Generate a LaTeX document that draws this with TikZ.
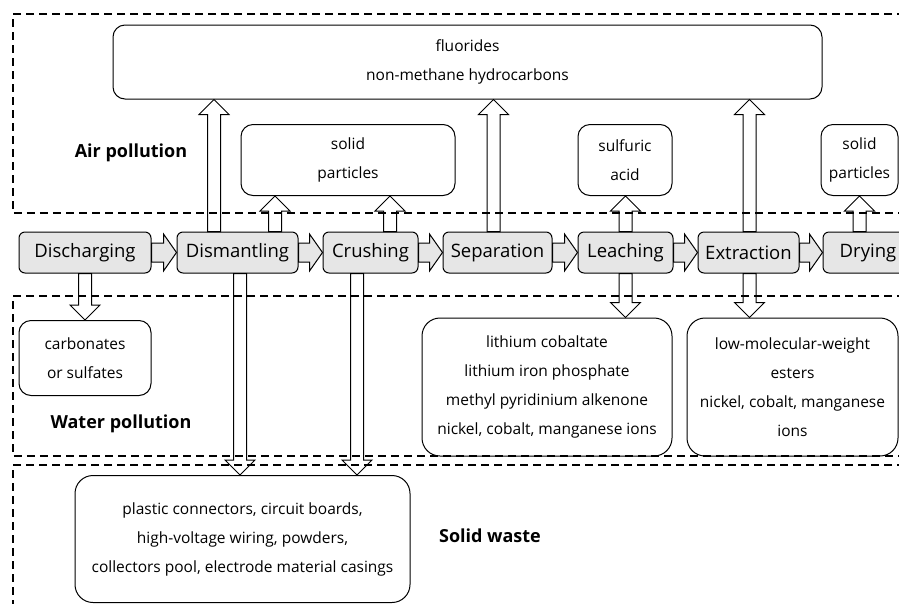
\documentclass[tikz,border=0pt]{standalone}
\usepackage{fontspec}
\setmainfont{Open Sans}
\usetikzlibrary{arrows.meta,positioning,calc}
\definecolor{procgray}{HTML}{E6E6E6}

\begin{document}
\begin{tikzpicture}[x=1pt, y=-1pt,
  proc/.style={rectangle, draw, line width=1pt, fill=procgray, rounded corners=6pt, minimum height=41pt, minimum width=#1, inner sep=0pt, font=\fontsize{18.5}{20}\selectfont},
  pbox/.style={rectangle, draw, line width=1pt, rounded corners=12pt, align=center, inner sep=0pt, font=\fontsize{15.5}{29}\selectfont},
  zone/.style={line width=1.3pt, dash pattern=on 8pt off 5pt},
  zlabel/.style={font=\fontsize{18}{20}\selectfont\bfseries},
  blockarr/.style args={#1/#2/#3}{line width=1pt, to path={
    let \p1=(\tikztostart), \p2=(\tikztotarget),
        \n1={atan2(\y2-\y1,\x2-\x1)}, \n2={veclen(\x2-\x1,\y2-\y1)} in
    ($(\p1)+(\n1+90:#1)$) -- ($(\p1)+(\n1+90:#1)+(\n1:\n2-#3)$)
    -- ($(\p1)+(\n1+90:#2)+(\n1:\n2-#3)$) -- (\p2)
    -- ($(\p1)+(\n1-90:#2)+(\n1:\n2-#3)$) -- ($(\p1)+(\n1-90:#1)+(\n1:\n2-#3)$)
    -- ($(\p1)+(\n1-90:#1)$) -- cycle}},
  harr/.style={blockarr=9.5pt/18.5pt/13pt, fill=procgray},
  varr/.style={blockarr=6.5pt/15pt/15pt, fill=white}
]
  \useasboundingbox (0,0) rectangle (899,603);

  % process chain
  \node[proc=132pt] (dis) at (85,252.5) {Discharging};
  \node[proc=121pt] (dism) at (237.5,252.5) {Dismantling};
  \node[proc=95pt] (crush) at (370.5,252.5) {Crushing};
  \node[proc=109pt] (sep) at (497.5,252.5) {Separation};
  \node[proc=95pt] (leach) at (625.5,252.5) {Leaching};
  \node[proc=101pt] (extr) at (748.5,252.5) {Extraction};
  \node[proc=90pt] (dry) at (868,252.5) {Drying};

  % pollutant boxes
  \node[pbox, minimum width=709pt, minimum height=74pt] (fluor) at (467.5,62) {fluorides\\non-methane hydrocarbons};
  \node[pbox, minimum width=214pt, minimum height=71pt] (sol1) at (348,160) {solid\\particles};
  \node[pbox, minimum width=94pt, minimum height=71pt] (sulf) at (625,160) {sulfuric\\acid};
  \node[pbox, minimum width=77pt, minimum height=71pt] (sol2) at (859.5,160) {solid\\particles};
  \node[pbox, minimum width=132pt, minimum height=75pt] (carb) at (85,358) {carbonates\\or sulfates};
  \node[pbox, minimum width=250pt, minimum height=138pt, rounded corners=18pt] (lith) at (547,387) {lithium cobaltate\\lithium iron phosphate\\methyl pyridinium alkenone\\nickel, cobalt, manganese ions};
  \node[pbox, minimum width=211pt, minimum height=138pt, rounded corners=18pt] (lowm) at (792.5,387) {low-molecular-weight\\esters\\nickel, cobalt, manganese\\ions};
  \node[pbox, minimum width=335pt, minimum height=127pt, rounded corners=18pt] (waste) at (242.5,539) {plastic connectors, circuit boards,\\high-voltage wiring, powders,\\collectors pool, electrode material casings};

  \node[zlabel] (air) at (131,153) {Air pollution};
  \node[zlabel] (water) at (121,424) {Water pollution};
  \node[zlabel] (solid) at (490,536) {Solid waste};

  % chain arrows
  \draw[harr] (dis.east) to (dism.west);
  \draw[harr] (dism.east) to (crush.west);
  \draw[harr] (crush.east) to (sep.west);
  \draw[harr] (sep.east) to (leach.west);
  \draw[harr] (leach.east) to (extr.west);
  \draw[harr] (extr.east) to (dry.west);

  % emissions up
  \draw[varr] ([xshift=-23.5pt]dism.north) to ([xshift=-23.5pt]dism.north |- fluor.south);
  \draw[varr] ([xshift=37.5pt]dism.north) to ([xshift=37.5pt]dism.north |- sol1.south);
  \draw[varr] ([xshift=19.5pt]crush.north) to ([xshift=19.5pt]crush.north |- sol1.south);
  \draw[varr] ([xshift=-4pt]sep.north) to ([xshift=-4pt]sep.north |- fluor.south);
  \draw[varr] (leach.north) to (leach.north |- sulf.south);
  \draw[varr] ([xshift=1pt]extr.north) to ([xshift=1pt]extr.north |- fluor.south);
  \draw[varr] (dry.north -| sol2.south) to (sol2.south);

  % discharges down
  \draw[varr] (dis.south -| carb.north) to (carb.north);
  \draw[varr] ([xshift=2.5pt]dism.south) to ([xshift=2.5pt]dism.south |- waste.north);
  \draw[varr] ([xshift=-13.5pt]crush.south) to ([xshift=-13.5pt]crush.south |- waste.north);
  \draw[varr] (leach.south) to (leach.south |- lith.north);
  \draw[varr] ([xshift=1pt]extr.south) to ([xshift=1pt]extr.south |- lowm.north);

  % zones
  \draw[zone] (905,14) -- (13,14) -- (13,213) -- (905,213);
  \draw[zone] (905,296) -- (13,296) -- (13,456) -- (905,456);
  \draw[zone] (905,465) -- (13,465) -- (13,610);
\end{tikzpicture}
\end{document}
